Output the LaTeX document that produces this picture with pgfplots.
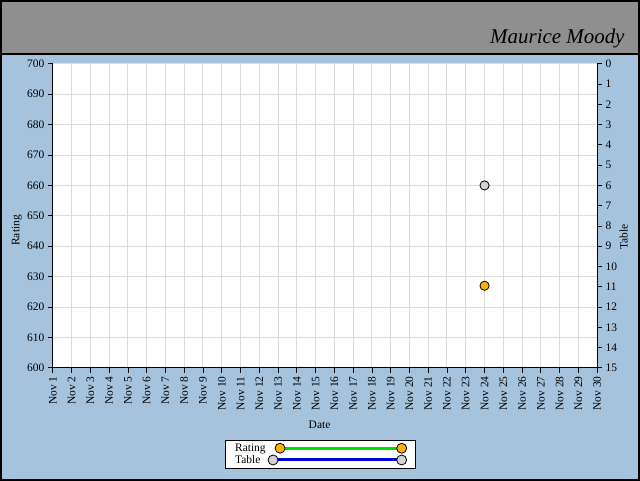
\documentclass[border=0pt]{standalone}
\usepackage{pgfplots}
\pgfplotsset{compat=1.18}
\usepackage{fontspec}
\setmainfont{Liberation Serif}
\definecolor{bgblue}{HTML}{A6C3DD}
\definecolor{hdrgray}{HTML}{8F8F8F}
\definecolor{gridgray}{HTML}{DCDCDC}
\definecolor{ratingorange}{HTML}{FFB000}
\definecolor{tablegray}{HTML}{D3D3D3}
\definecolor{lgreen}{HTML}{00E000}
\definecolor{lblue}{HTML}{0000D0}

\pgfplotsset{
  chartbase/.style={
    at={(52pt,112pt)}, anchor=south west,
    scale only axis, width=546pt, height=305pt,
    xmin=1, xmax=30,
    /pgf/number format/assume math mode=true,
    tick label style={font=\fontsize{11.5}{13}\selectfont},
    tick align=outside, major tick length=5pt,
    tick style={black, line width=0.8pt},
    axis line style={-, black, line width=1pt},
  }
}

\begin{document}
\begin{tikzpicture}
\fill[bgblue] (0pt,0pt) rectangle (640pt,480pt);
\fill[hdrgray] (0pt,427pt) rectangle (640pt,480pt);
\draw[line width=1.5pt] (0pt,427pt) -- (640pt,427pt);
\node[anchor=base east, font=\fontsize{21}{23}\selectfont\itshape] at (629pt,437pt) {Maurice Moody};

\begin{axis}[chartbase,
  ymin=600, ymax=700, ytick={600,610,...,700},
  axis background/.style={fill=white},
  axis x line*=bottom, axis y line*=left,
  grid=major, grid style={gridgray, line width=1pt},
  xtick={1,...,30},
  xticklabels={Nov 1,Nov 2,Nov 3,Nov 4,Nov 5,Nov 6,Nov 7,Nov 8,Nov 9,Nov 10,
    Nov 11,Nov 12,Nov 13,Nov 14,Nov 15,Nov 16,Nov 17,Nov 18,Nov 19,Nov 20,
    Nov 21,Nov 22,Nov 23,Nov 24,Nov 25,Nov 26,Nov 27,Nov 28,Nov 29,Nov 30},
  x tick label style={rotate=90, anchor=east},
  xlabel={Date}, ylabel={Rating},
  every axis x label/.style={at={(axis description cs:0.49,-0.187)}, anchor=center,
    font=\fontsize{11.5}{13}\selectfont},
  every axis y label/.style={at={(axis description cs:-0.066,0.452)}, anchor=center, rotate=90,
    font=\fontsize{11.5}{13}\selectfont},
  legend style={at={(axis description cs:0.491,-0.284)}, anchor=center,
    draw=black, fill=white, font=\fontsize{11.5}{11.5}\selectfont,
    inner xsep=8pt, inner ysep=1.5pt, row sep=-1.5pt, line width=0.8pt},
  legend cell align=left, legend plot pos=right,
]
\addplot[only marks, mark=*, mark size=4.6pt,
  mark options={fill=ratingorange, draw=black, line width=0.8pt},
  legend image code/.code={
    \draw[lgreen, line width=3pt] (0pt,0pt) -- (122pt,0pt);
    \draw[black, fill=ratingorange, line width=0.8pt] (0pt,0pt) circle (5pt) (122pt,0pt) circle (5pt);}
  ] coordinates {(24,627)};
\addlegendentry{Rating}
\addlegendimage{legend image code/.code={
    \draw[lblue, line width=3pt] (-7pt,0pt) -- (122pt,0pt);
    \draw[black, fill=tablegray, line width=0.8pt] (-7pt,0pt) circle (5pt) (122pt,0pt) circle (5pt);}}
\addlegendentry{Table}
\end{axis}

\begin{axis}[chartbase,
  ymin=0, ymax=15, y dir=reverse, ytick={0,...,15},
  axis y line*=right, axis x line=none,
  ylabel={Table},
  every axis y label/.style={at={(axis description cs:1.049,0.43)}, anchor=center, rotate=90,
    font=\fontsize{11.5}{13}\selectfont},
]
\addplot[only marks, mark=*, mark size=4.6pt,
  mark options={fill=tablegray, draw=black, line width=0.8pt}] coordinates {(24,6)};
\end{axis}

\draw[line width=2pt] (0pt,0pt) rectangle (640pt,480pt);
\end{tikzpicture}
\end{document}
